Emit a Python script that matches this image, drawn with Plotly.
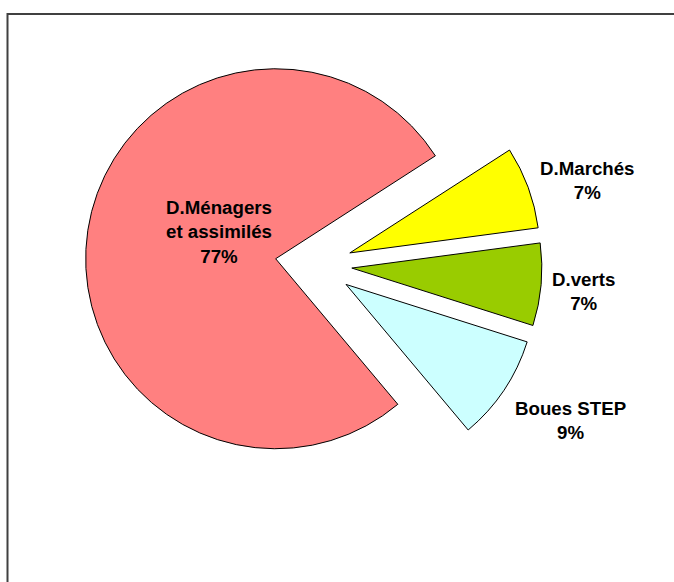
import plotly.graph_objects as go

labels = ["D.Ménagers<br>et assimilés", "D.Marchés", "D.verts", "Boues STEP"]
values = [77, 7, 7, 9]
colors = ["#FF8080", "#FFFF00", "#99CC00", "#CCFFFF"]
pulls = [0.22, 0.184, 0.184, 0.184]

W, H = 674, 582
cx, cy, r = 317, 265, 190
half = r * (1 + max(pulls))

# label block centres (pixels from top-left of the figure)
label_pos = [(219, 232), (587, 180), (583, 291), (570, 420)]

FONT = dict(family="Liberation Sans, Arial, sans-serif", size=18.7, color="black")

fig = go.Figure(go.Pie(
    labels=labels,
    values=values,
    sort=False,
    direction="clockwise",
    rotation=140,
    pull=pulls,
    automargin=False,
    marker=dict(colors=colors, line=dict(color="black", width=1)),
    textinfo="none",
    hoverinfo="label+percent",
    showlegend=False,
    domain=dict(x=[(cx - half) / W, (cx + half) / W],
                y=[1 - (cy + half) / H, 1 - (cy - half) / H]),
))

total = sum(values)
annotations = []
for lab, val, (px, py) in zip(labels, values, label_pos):
    annotations.append(dict(
        x=px / W, y=1 - py / H, xref="paper", yref="paper",
        xanchor="center", yanchor="middle", showarrow=False,
        text=f"<b>{lab}<br>{round(100 * val / total)}%</b>",
        font=FONT, align="center",
    ))

fig.update_layout(
    width=W, height=H,
    autosize=False,
    margin=dict(l=0, r=0, t=0, b=0, pad=0, autoexpand=False),
    paper_bgcolor="white",
    plot_bgcolor="white",
    annotations=annotations,
    shapes=[dict(type="rect", xref="paper", yref="paper",
                 x0=7.5 / W, x1=1.02, y0=-0.02, y1=1 - 14 / H,
                 line=dict(color="#404040", width=2), fillcolor="rgba(0,0,0,0)")],
)

fig.write_html("out.html", config={"displayModeBar": False},
               post_script="document.body.style.margin='0';")
